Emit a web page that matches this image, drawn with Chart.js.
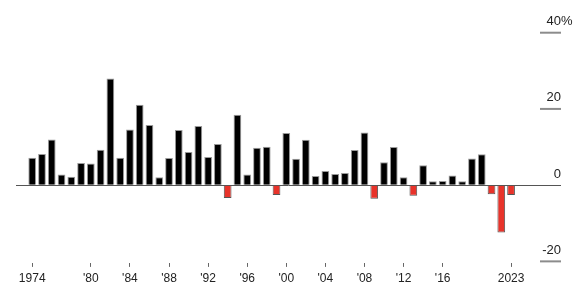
<!DOCTYPE html>
<html>
<head>
<meta charset="utf-8">
<script src="https://cdn.jsdelivr.net/npm/chart.js@4.4.1/dist/chart.umd.min.js"></script>
<style>
  html, body { margin: 0; padding: 0; background: #ffffff; }
  #wrap { width: 588px; height: 298px; position: relative; }
</style>
</head>
<body>
<div id="wrap"><canvas id="c" width="588" height="298"></canvas></div>
<script>
// ---- Data ----
const years = [1974, 1975, 1976, 1977, 1978, 1979, 1980, 1981, 1982, 1983,
               1984, 1985, 1986, 1987, 1988, 1989, 1990, 1991, 1992, 1993,
               1994, 1995, 1996, 1997, 1998, 1999, 2000, 2001, 2002, 2003,
               2004, 2005, 2006, 2007, 2008, 2009, 2010, 2011, 2012, 2013,
               2014, 2015, 2016, 2017, 2018, 2019, 2020, 2021, 2022, 2023];
const values = [7.2, 8.2, 12.0, 2.8, 2.2, 5.8, 5.7, 9.3, 28.0, 7.2,
                14.6, 21.1, 15.8, 2.1, 7.1, 14.5, 8.7, 15.5, 7.4, 10.8,
                -3.4, 18.5, 2.8, 9.8, 10.1, -2.6, 13.7, 6.9, 11.9, 2.4,
                3.7, 2.9, 3.2, 9.2, 13.8, -3.6, 6.0, 10.0, 2.1, -2.8,
                5.2, 1.0, 1.1, 2.5, 1.0, 7.0, 8.1, -2.4, -12.4, -2.6];
const xTickYears = [1974, 1980, 1984, 1988, 1992, 1996, 2000, 2004, 2008, 2012, 2016, 2023];
const xTickLabels = ['1974', "'80", "'84", "'88", "'92", "'96", "'00", "'04", "'08", "'12", "'16", '2023'];
const yTickValues = [40, 20, 0, -20];
const yTickLabels = ['40%', '20', '0', '-20'];

// ---- Styles ----
const FONT = '"Liberation Sans", Arial, Helvetica, sans-serif';
const TEXT = '#222222';
const POS_FILL = '#000000', POS_BORDER = '#9a9a9a';
const NEG_FILL = '#e8332a', NEG_BORDER = '#555555';

const yDecor = {
  id: 'yDecor',
  afterDraw(chart) {
    const { ctx, chartArea, scales: { y } } = chart;
    const xr = chartArea.right;
    ctx.save();
    ctx.font = '13px ' + FONT;
    ctx.fillStyle = TEXT;
    ctx.textBaseline = 'alphabetic';
    yTickValues.forEach((v, i) => {
      const py = y.getPixelForValue(v);
      if (v !== 0) {
        ctx.strokeStyle = '#8c8c8c';
        ctx.lineWidth = 2;
        ctx.beginPath();
        ctx.moveTo(xr - 21, py);
        ctx.lineTo(xr, py);
        ctx.stroke();
      }
      const lab = yTickLabels[i];
      const hasPct = lab.endsWith('%');
      const num = hasPct ? lab.slice(0, -1) : lab;
      ctx.textAlign = 'right';
      ctx.fillText(num, xr, py - 7.5);
      if (hasPct) {
        ctx.textAlign = 'left';
        ctx.fillText('%', xr, py - 7.5);
      }
    });
    ctx.restore();
  }
};

new Chart(document.getElementById('c'), {
  type: 'bar',
  data: {
    datasets: [{
      data: years.map((yr, i) => ({ x: yr, y: values[i] })),
      backgroundColor: ctx => (ctx.raw && ctx.raw.y < 0) ? NEG_FILL : POS_FILL,
      borderColor: ctx => (ctx.raw && ctx.raw.y < 0) ? NEG_BORDER : POS_BORDER,
      borderWidth: 1,
      barPercentage: 1,
      categoryPercentage: 0.79
    }]
  },
  options: {
    responsive: false,
    animation: false,
    devicePixelRatio: 1,
    layout: { padding: { left: 16, right: 27, top: 32.7, bottom: 6.7 } },
    plugins: { legend: { display: false }, tooltip: { enabled: false } },
    scales: {
      x: {
        type: 'linear',
        min: 1972.342,
        max: 2028.11,
        offset: false,
        afterBuildTicks: axis => { axis.ticks = xTickYears.map(v => ({ value: v })); },
        ticks: {
          autoSkip: false,
          maxRotation: 0,
          padding: 5,
          color: TEXT,
          font: { family: FONT, size: 12 },
          callback: (v, i) => xTickLabels[i]
        },
        grid: { offset: false, drawOnChartArea: false, drawTicks: true, tickLength: 4, tickColor: '#666666', tickWidth: 1 },
        border: { display: false }
      },
      y: {
        min: -20.4,
        max: 40,
        afterBuildTicks: axis => { axis.ticks = yTickValues.map(v => ({ value: v })); },
        ticks: { display: false },
        grid: {
          drawTicks: false,
          lineWidth: 1,
          color: ctx => (ctx.tick && ctx.tick.value === 0) ? '#555555' : 'rgba(0,0,0,0)'
        },
        border: { display: false }
      }
    }
  },
  plugins: [yDecor]
});
</script>
</body>
</html>
